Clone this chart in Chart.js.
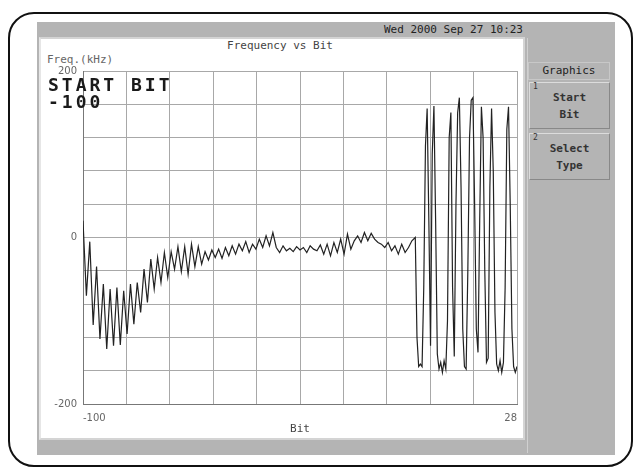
<!DOCTYPE html>
<html>
<head>
<meta charset="utf-8">
<script src="https://cdn.jsdelivr.net/npm/chart.js@4.4.1/dist/chart.umd.min.js"></script>
<style>
  html, body { margin: 0; padding: 0; background: #fff; }
  body { width: 638px; height: 471px; position: relative; overflow: hidden; font-family: "DejaVu Sans Mono", monospace; }
  .abs { position: absolute; }
  #outline { left: 8px; top: 12px; width: 621px; height: 451px; border: 2px solid #111; border-radius: 26px; }
  #frame { left: 37px; top: 22px; width: 578px; height: 433px; background: #b4b4b4; }
  #panel { left: 39px; top: 37px; width: 482px; height: 399px; background: #fff; border: 2px solid #d4d4d4; border-left-color: #e6e6e6; }
  #date { left: 300px; top: 23px; width: 223px; text-align: right; font-size: 11px; color: #222; }
  #side { left: 527px; top: 38px; width: 86px; height: 415px; border-left: 1px solid #d0d0d0; }
  .hdr { left: 528px; top: 62px; width: 80px; height: 16px; border: 1px solid #c8c8c8; font-size: 11px; color: #222; text-align: center; line-height: 16px; }
  .btn { left: 529px; width: 81px; height: 47px; border: 1px solid #dcdcdc; border-right-color: #888; border-bottom-color: #888; font-size: 11px; font-weight: bold; color: #333; text-align: center; line-height: 17px; padding-top: 6px; box-sizing: border-box; }
  .num { position: absolute; left: 3px; top: -5px; font-size: 8px; font-weight: normal; }
  #title { left: 40px; top: 39px; width: 480px; text-align: center; font-size: 11px; color: #444; }
  #ylab { left: 47px; top: 53px; font-size: 11px; color: #666; }
  #start { left: 48px; top: 76px; font-size: 18px; font-weight: bold; line-height: 17px; letter-spacing: 3px; color: #1a1a1a; z-index: 3; }
  canvas { position: absolute; left: 0; top: 0; z-index: 2; }
</style>
</head>
<body>
<div class="abs" id="outline"></div>
<div class="abs" id="frame"></div>
<div class="abs" id="panel"></div>
<div class="abs" id="date">Wed 2000 Sep 27 10:23</div>
<div class="abs" id="side"></div>
<div class="abs hdr">Graphics</div>
<div class="abs btn" style="top:82px"><span class="num">1</span>Start<br>Bit</div>
<div class="abs btn" style="top:133px"><span class="num">2</span>Select<br>Type</div>
<div class="abs" id="title">Frequency vs Bit</div>
<div class="abs" id="ylab">Freq.(kHz)</div>
<div class="abs" id="start">START BIT<br>-100</div>
<canvas id="myChart" width="638" height="471"></canvas>
<script>
// training part, one sample per bit from -100 to -3
const trainStart = -100;
const trainFreq = [
  20, -70, -5, -105, -35, -122, -56, -134, -62, -130,
  -60, -129, -64, -116, -56, -104, -54, -90, -38, -78,
  -26, -62, -24, -54, -18, -48, -17, -38, -11, -41,
  -11, -44, -8, -35, -11, -32, -17, -27, -15, -24,
  -14, -25, -12, -22, -10, -20, -8, -16, -5, -18,
  -8, -14, -2, -12, 2, -10, 6, -12, -18, -10,
  -16, -13, -17, -11, -15, -12, -18, -10, -14, -16,
  -9, -20, -8, -22, -6, -18, -2, -20, 4, -14,
  -4, 2, -6, 6, -4, 5, -2, -6, -8, -12,
  -6, -16, -10, -20, -8, -18, -12, -4
];

// sync word part, two samples per bit from -2 to 28
const syncStart = -2;
const syncFreq = [
  0, -120, -155, -152, -155, -60, 110, 155, 20, -130,
  100, 158, 20, -140, -158, -150, -162, -148, -158, -100,
  120, 150, -60, -143, 40, 150, 168, 60, -110, -155,
  -158, -40, 120, 165, 168, 40, -110, -138, 20, 157,
  120, -40, -150, -145, 60, 155, 80, -90, -152, -160,
  -148, -162, -150, -60, 130, 157, 40, -110, -155, -162,
  -155
];

const bitTicks = [-100, -87.2, -74.4, -61.6, -48.8, -36, -23.2, -10.4, 2.4, 15.2, 28];
const bitTickLabels = ["-100", "", "", "", "", "", "", "", "", "", "28"];
const freqTickLabels = { "200": "200", "0": "0", "-200": "-200" };

const points = [];
trainFreq.forEach((v, i) => points.push({ x: trainStart + i, y: v }));
syncFreq.forEach((v, i) => points.push({ x: syncStart + i * 0.5, y: v }));

const tickFont = { family: "DejaVu Sans", size: 10 };

const config = {
  type: "line",
  data: {
    datasets: [
      {
        data: points,
        borderColor: "#222",
        borderWidth: 1.2,
        pointRadius: 0,
        tension: 0,
      },
    ],
  },
  options: {
    responsive: false,
    devicePixelRatio: 1,
    animation: false,
    layout: {
      padding: { left: 0, top: 71, right: 121, bottom: 35 },
    },
    scales: {
      x: {
        type: "linear",
        min: -100,
        max: 28,
        afterBuildTicks: (scale) => {
          scale.ticks = bitTicks.map((v) => ({ value: v }));
        },
        afterFit: (scale) => {
          scale.height = 32;
        },
        grid: {
          color: "#a8a8a8",
          lineWidth: 1,
          drawTicks: false,
        },
        border: { color: "#777", width: 1 },
        ticks: {
          autoSkip: false,
          maxRotation: 0,
          align: "inner",
          padding: 8,
          color: "#666",
          font: tickFont,
          callback: (value, index) => bitTickLabels[index],
        },
        title: {
          display: true,
          text: "Bit",
          color: "#444",
          padding: 0,
          font: { family: "DejaVu Sans Mono", size: 11 },
        },
      },
      y: {
        min: -200,
        max: 200,
        afterFit: (scale) => {
          scale.width = 83;
        },
        grid: {
          color: "#a8a8a8",
          lineWidth: 1,
          drawTicks: false,
        },
        border: { color: "#777", width: 1 },
        ticks: {
          stepSize: 40,
          padding: 6,
          color: "#666",
          font: tickFont,
          callback: (value) => freqTickLabels[String(value)] || "",
        },
      },
    },
    plugins: {
      legend: { display: false },
      tooltip: { enabled: false },
    },
  },
};

var myChart = new Chart(document.getElementById("myChart"), config);
</script>
</body>
</html>
